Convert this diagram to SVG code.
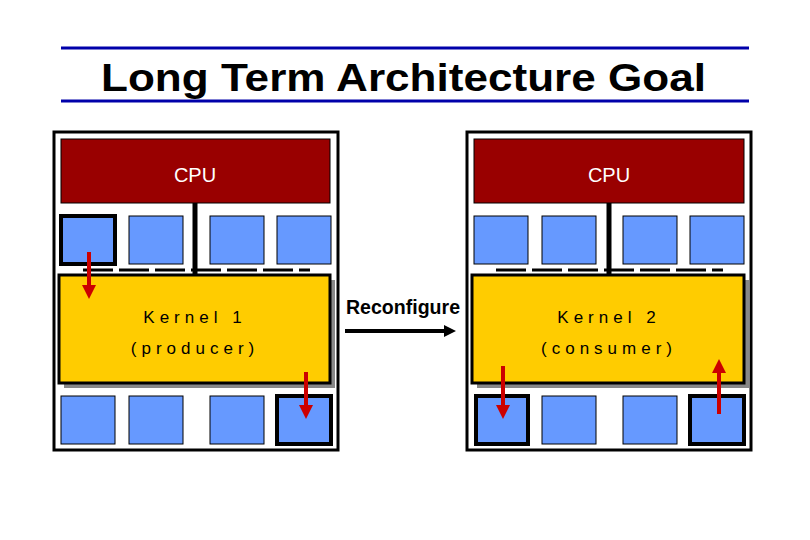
<svg xmlns="http://www.w3.org/2000/svg" width="810" height="540" viewBox="0 0 810 540">
<defs>
<style>
.blk{fill:#6699ff;stroke:#000;stroke-width:1}
.sel{fill:#6699ff;stroke:#000;stroke-width:4}
.cpu{fill:#990000;stroke:#000;stroke-width:1}
.ker{fill:#ffcc00;stroke:#000;stroke-width:3}
.sh{fill:#888}
.out{fill:#fff;stroke:#000;stroke-width:3}
.red{stroke:#cc0000;stroke-width:4;fill:none}
.t{font-family:"Liberation Sans",Arial,sans-serif}
</style>
<marker id="rh" viewBox="0 0 10 10" refX="5" refY="5" markerWidth="3.8" markerHeight="3.5" orient="auto"><path d="M0,0L10,5L0,10z" fill="#cc0000"/></marker>
<marker id="bh" viewBox="0 0 10 10" refX="5" refY="5" markerWidth="3" markerHeight="3" orient="auto"><path d="M0,0L10,5L0,10z" fill="#000"/></marker>
</defs>
<rect width="810" height="540" fill="#fff"/>
<g id="title">
<line x1="61" y1="48" x2="749" y2="48" stroke="#0000aa" stroke-width="3"/>
<line x1="61" y1="101" x2="749" y2="101" stroke="#0000aa" stroke-width="3"/>
<text x="101" y="91" class="t" font-size="39" font-weight="bold" textLength="605" lengthAdjust="spacingAndGlyphs">Long Term Architecture Goal</text>
</g>
<g id="left">
<rect class="out" x="54" y="132" width="284" height="318"/>
<rect class="cpu" x="61" y="139" width="269" height="64"/>
<text x="195" y="182" text-anchor="middle" class="t" font-size="20" fill="#fff">CPU</text>
<line x1="195" y1="203" x2="195" y2="275" stroke="#000" stroke-width="5"/>
<line x1="83" y1="270" x2="310" y2="270" stroke="#000" stroke-width="3" stroke-dasharray="30,6"/>
<rect class="sel" x="61" y="216" width="54" height="48"/>
<rect class="blk" x="129" y="216" width="54" height="48"/>
<rect class="blk" x="210" y="216" width="54" height="48"/>
<rect class="blk" x="277" y="216" width="54" height="48"/>
<rect class="sh" x="64" y="280" width="271" height="108"/>
<rect class="ker" x="59" y="275" width="271" height="108"/>
<text x="195" y="323" text-anchor="middle" class="t" font-size="17" letter-spacing="5">Kernel 1</text>
<text x="195" y="354" text-anchor="middle" class="t" font-size="17" letter-spacing="5">(producer)</text>
<rect class="blk" x="61" y="396" width="54" height="48"/>
<rect class="blk" x="129" y="396" width="54" height="48"/>
<rect class="blk" x="210" y="396" width="54" height="48"/>
<rect class="sel" x="277" y="396" width="54" height="48"/>
<line class="red" x1="89" y1="252" x2="89" y2="292" marker-end="url(#rh)"/>
<line class="red" x1="306" y1="372" x2="306" y2="412" marker-end="url(#rh)"/>
</g>
<g id="right">
<rect class="out" x="467" y="132" width="284" height="318"/>
<rect class="cpu" x="474" y="139" width="270" height="64"/>
<text x="609" y="182" text-anchor="middle" class="t" font-size="20" fill="#fff">CPU</text>
<line x1="609" y1="203" x2="609" y2="275" stroke="#000" stroke-width="5"/>
<line x1="496" y1="270" x2="723" y2="270" stroke="#000" stroke-width="3" stroke-dasharray="30,6"/>
<rect class="blk" x="474" y="216" width="54" height="48"/>
<rect class="blk" x="542" y="216" width="54" height="48"/>
<rect class="blk" x="623" y="216" width="54" height="48"/>
<rect class="blk" x="690" y="216" width="54" height="48"/>
<rect class="sh" x="477" y="280" width="272" height="108"/>
<rect class="ker" x="472" y="275" width="272" height="108"/>
<text x="609" y="323" text-anchor="middle" class="t" font-size="17" letter-spacing="5">Kernel 2</text>
<text x="609" y="354" text-anchor="middle" class="t" font-size="17" letter-spacing="5">(consumer)</text>
<rect class="sel" x="476" y="396" width="52" height="48"/>
<rect class="blk" x="542" y="396" width="54" height="48"/>
<rect class="blk" x="623" y="396" width="54" height="48"/>
<rect class="sel" x="690" y="396" width="54" height="48"/>
<line class="red" x1="503" y1="366" x2="503" y2="412" marker-end="url(#rh)"/>
<line class="red" x1="719" y1="414" x2="719" y2="366" marker-end="url(#rh)"/>
</g>
<g id="connectors">
<text x="346" y="314" class="t" font-size="21" font-weight="bold" textLength="114" lengthAdjust="spacingAndGlyphs">Reconfigure</text>
<line x1="345" y1="331" x2="450" y2="331" stroke="#000" stroke-width="4" marker-end="url(#bh)"/>
</g>
</svg>
